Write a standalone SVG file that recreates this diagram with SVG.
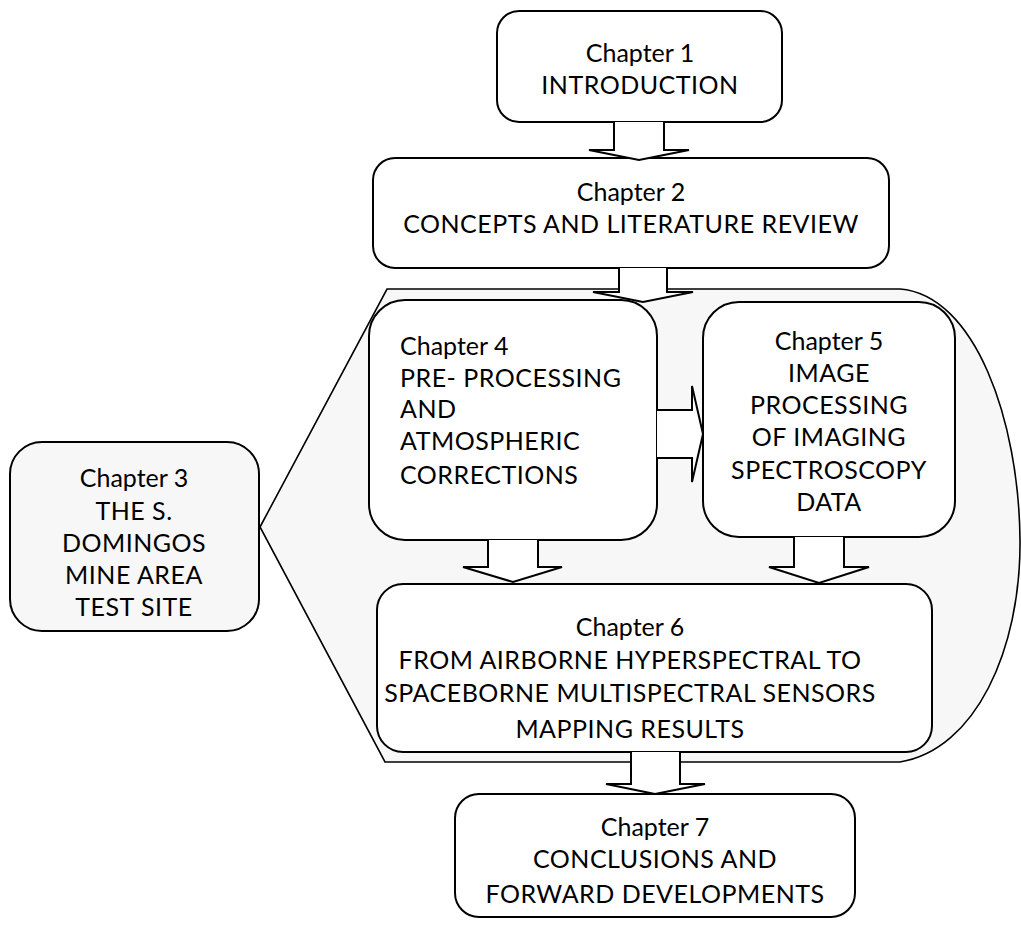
<svg xmlns="http://www.w3.org/2000/svg" width="1021" height="928" viewBox="0 0 1021 928">
<style>
.box{fill:#fff;stroke:#000;stroke-width:2}
.gbox{fill:#f7f7f7;stroke:#000;stroke-width:2}
.shape{fill:#f7f7f7;stroke:#000;stroke-width:1.6}
.arr{fill:#fff;stroke:#000;stroke-width:2;stroke-linejoin:miter}
text{font-family:Lato,"Open Sans",sans-serif;font-size:25px;fill:#000}
.u{letter-spacing:0.5px}
.c{text-anchor:middle}
</style>
<rect width="1021" height="928" fill="#fff"/>
<g id="region">
<path class="shape" d="M260 527 L387 289 L900 289 C975 295 1019 420 1020 540 C1021 650 975 750 900 762 L385 762 Z"/>
</g>
<g id="ch1">
<rect class="box" x="497" y="11" width="285" height="111" rx="22"/>
<text class="c" x="640" y="62">Chapter 1</text>
<text class="c u" x="640" y="94">INTRODUCTION</text>
</g>
<g id="ch2">
<rect class="box" x="373" y="158" width="516" height="110" rx="22"/>
<text class="c" x="631" y="201">Chapter 2</text>
<text class="c u" x="631" y="233">CONCEPTS AND LITERATURE REVIEW</text>
</g>
<g id="ch3">
<rect class="gbox" x="10" y="442" width="249" height="189" rx="32"/>
<text class="c" x="134" y="487">Chapter 3</text>
<text class="c u" x="134" y="520">THE S.</text>
<text class="c u" x="134" y="552">DOMINGOS</text>
<text class="c u" x="134" y="584">MINE AREA</text>
<text class="c u" x="134" y="616">TEST SITE</text>
</g>
<g id="ch4">
<rect class="box" x="369" y="300" width="288" height="240" rx="36"/>
<text x="400" y="355">Chapter 4</text>
<text class="u" x="400" y="387">PRE- PROCESSING</text>
<text class="u" x="400" y="418">AND</text>
<text class="u" x="400" y="450">ATMOSPHERIC</text>
<text class="u" x="400" y="484">CORRECTIONS</text>
</g>
<g id="ch5">
<rect class="box" x="703" y="302" width="252" height="235" rx="36"/>
<text class="c" x="829" y="350">Chapter 5</text>
<text class="c u" x="829" y="382">IMAGE</text>
<text class="c u" x="829" y="414">PROCESSING</text>
<text class="c u" x="829" y="446">OF IMAGING</text>
<text class="c u" x="829" y="479">SPECTROSCOPY</text>
<text class="c u" x="829" y="511">DATA</text>
</g>
<g id="ch6">
<rect class="box" x="377" y="584" width="555" height="168" rx="26"/>
<text class="c" x="630" y="636">Chapter 6</text>
<text class="c u" x="630" y="669">FROM AIRBORNE HYPERSPECTRAL TO</text>
<text class="c u" x="630" y="702">SPACEBORNE MULTISPECTRAL SENSORS</text>
<text class="c u" x="630" y="738">MAPPING RESULTS</text>
</g>
<g id="ch7">
<rect class="box" x="455" y="794" width="400" height="123" rx="24"/>
<text class="c" x="655" y="836">Chapter 7</text>
<text class="c u" x="655" y="868">CONCLUSIONS AND</text>
<text class="c u" x="655" y="903">FORWARD DEVELOPMENTS</text>
</g>
<g id="connectors">
<path class="arr" d="M614 122 L614 150 L589 150 L639 160 L689 150 L664 150 L664 122"/>
<path class="arr" d="M619 268 L619 292 L593 292 L643 302 L693 292 L667 292 L667 268"/>
<path class="arr" d="M657 410 L692 410 L692 386 L703 434 L692 482 L692 458 L657 458"/>
<path class="arr" d="M488 540 L488 567 L463 567 L513 582 L562 567 L538 567 L538 540"/>
<path class="arr" d="M794 537 L794 567 L769 567 L819 583 L869 567 L844 567 L844 537"/>
<path class="arr" d="M631 752 L631 784 L606 784 L655 794 L705 784 L680 784 L680 752"/>
</g>
</svg>
